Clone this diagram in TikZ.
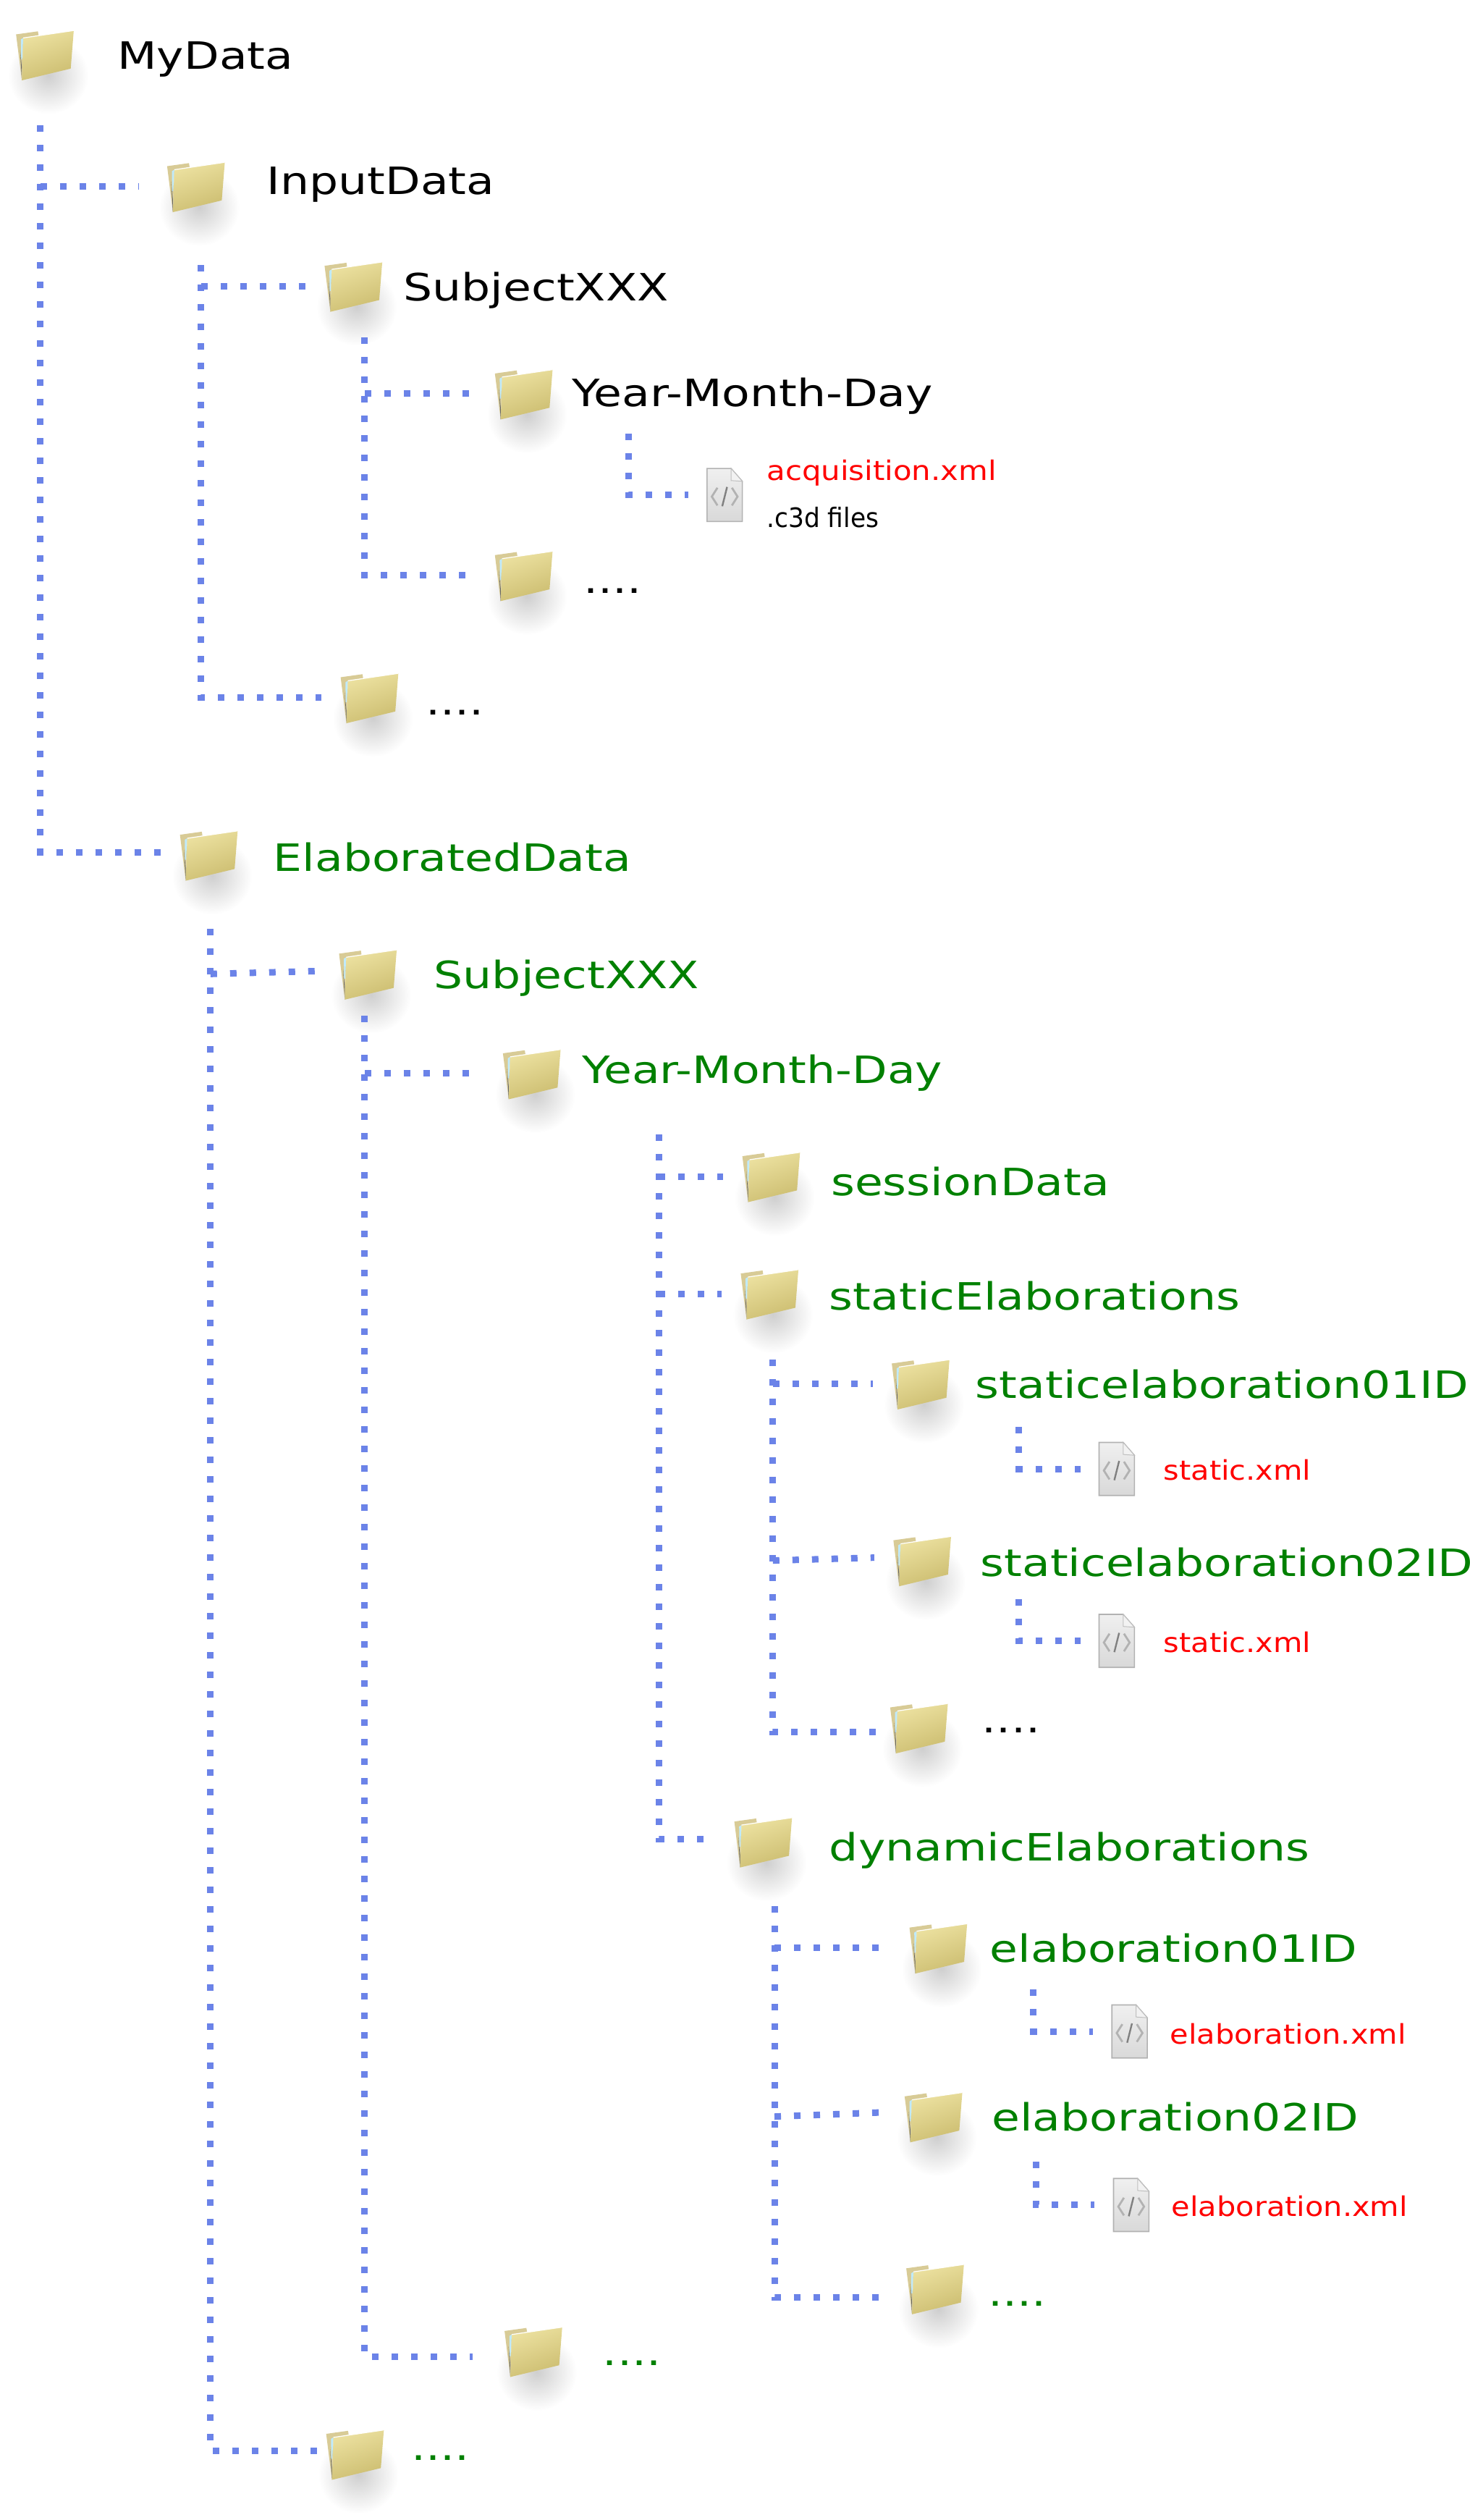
\documentclass[tikz,border=0pt]{standalone}
\usepackage{fontspec}
\usepackage{xcolor}
\usepackage{tikz}
\usetikzlibrary{positioning,shapes,calc}
\setmainfont[FakeStretch=1.215]{DejaVu Sans}
\newfontfamily\narrowfont[FakeStretch=0.93]{DejaVu Sans}
\newfontfamily\acqfont[FakeStretch=1.125]{DejaVu Sans}
\newfontfamily\xmlfont[FakeStretch=1.11]{DejaVu Sans}
\definecolor{linkblue}{RGB}{107,131,232}
\definecolor{foldback}{RGB}{216,203,150}
\definecolor{foldlight}{RGB}{236,225,160}
\definecolor{folddark}{RGB}{204,189,112}
\definecolor{darkgreen}{RGB}{0,128,0}

\tikzset{
  folder/.pic={
    \shade[inner color=black!19, outer color=white] (2,13) ellipse (25 and 24);
    \fill[foldback] (-18,-12.6) -- (-4.4,-14.5) -- (-4,-12) -- (-13.5,-10.4) -- (-14.4,16) -- cycle;
    \fill[black!60] (-15.5,-3) -- (-14.4,16) -- (-14.4,8) -- cycle;
    \fill[cyan!25] (-15,-9.5) -- (-13.5,-10.4) -- (-14.2,3) -- (-14.8,3) -- cycle;
    \shade[top color=foldlight, bottom color=folddark, shading angle=20]
      (-13.5,-10.4) -- (17.9,-15) -- (16,8.7) -- (-14.4,16) -- cycle;
    \draw[white, line width=0.6pt] (-13.5,-10.4) -- (17.9,-15);
  },
  xmlfile/.pic={
    \shade[top color=black!6, bottom color=black!15, draw=black!30, line width=0.8pt]
      (-11,-16.5) -- (4,-16.5) -- (11,-8.5) -- (11,16.5) -- (-11,16.5) -- cycle;
    \fill[black!5, draw=black!25, line width=0.5pt] (4,-16.5) -- (4,-9) -- (11,-8.5) -- cycle;
    \draw[black!30, line width=1.4pt] (-4.5,-4.5) -- (-8,1) -- (-4.5,6.5);
    \draw[black!30, line width=1.4pt] (4.5,-4.5) -- (8,1) -- (4.5,6.5);
    \draw[black!50, line width=1.2pt] (1.5,-5) -- (-1.5,7);
  }
}

\begin{document}
\begin{tikzpicture}[
  x=1.11pt, y=-1.11pt,
  foldernode/.style={inner sep=0pt, minimum width=66pt, minimum height=50pt},
  filenode/.style={inner sep=0pt, minimum width=50pt, minimum height=40pt},
  bigtext/.style={anchor=base west, inner sep=0pt, font=\fontsize{26}{30}\selectfont},
  inputtext/.style={bigtext, text=black},
  elabtext/.style={bigtext, text=darkgreen},
  xmltext/.style={anchor=base west, inner sep=0pt, text=red, font=\xmlfont\fontsize{18.7}{20}\selectfont},
  link/.style={draw=linkblue, line width=4.5pt, dash pattern=on 4.5pt off 9pt}
]

\useasboundingbox (0,0) rectangle (914.86,1568.02);

% Input tree
\node[foldernode] (mydata) at (28,34) {};
\node[foldernode, minimum width=78pt] (input) at (122,116) {};
\node[foldernode] (subject) at (220,178) {};
\node[foldernode] (date) at (326,245) {};
\node[foldernode] (datedots) at (326,358) {};
\node[foldernode] (subjectdots) at (230,434) {};
\node[filenode] (acq) at (451,308) {};

% Elaborated tree
\node[foldernode] (elab) at (130,532) {};
\node[foldernode] (elabsubject) at (229,606) {};
\node[foldernode, minimum width=76pt] (elabdate) at (331,668) {};
\node[foldernode] (session) at (480,732) {};
\node[foldernode] (static) at (479,805) {};
\node[foldernode] (staticone) at (573,861) {};
\node[foldernode] (statictwo) at (574,971) {};
\node[foldernode, minimum width=50pt] (staticdots) at (572,1075) {};
\node[foldernode] (dynamic) at (475,1146) {};
\node[foldernode] (dynone) at (584,1212) {};
\node[foldernode] (dyntwo) at (581,1317) {};
\node[foldernode, minimum width=76pt] (dyndots) at (582,1424) {};
\node[foldernode, minimum width=84pt] (elabdatedots) at (332,1463) {};
\node[foldernode, minimum width=50pt] (elabsubjectdots) at (221,1527) {};
\node[filenode] (staticonefile) at (695,914) {};
\node[filenode] (statictwofile) at (695,1021) {};
\node[filenode] (dynonefile) at (703,1264) {};
\node[filenode] (dyntwofile) at (704,1372) {};

% Icons
\foreach \n in {mydata,input,subject,date,datedots,subjectdots,elab,elabsubject,elabdate,session,static,staticone,statictwo,staticdots,dynamic,dynone,dyntwo,dyndots,elabdatedots,elabsubjectdots}
  \pic at (\n) {folder};
\foreach \n in {acq,staticonefile,statictwofile,dynonefile,dyntwofile}
  \pic at (\n) {xmlfile};

% Labels
\node[inputtext] (mydatatxt) at (73,43) {MyData};
\node[inputtext] (inputtxt) at (166,121) {InputData};
\node[inputtext] (subjecttxt) at (251,187) {SubjectXXX};
\node[inputtext] (datetxt) at (356,253) {Year-Month-Day};
\node[inputtext] (datedotstxt) at (363,369) {....};
\node[inputtext] (subjectdotstxt) at (265,445) {....};
\node[xmltext, font=\acqfont\fontsize{18.6}{20}\selectfont] (acqtxt) at (477,299) {acquisition.xml};
\node[anchor=base west, inner sep=0pt, font=\narrowfont\fontsize{18.5}{20}\selectfont] (c3dtxt) at (477,328) {.c3d files};

\node[elabtext] (elabtxt) at (170,542) {ElaboratedData};
\node[elabtext] (elabsubjecttxt) at (270,615) {SubjectXXX};
\node[elabtext] (elabdatetxt) at (362,674) {Year-Month-Day};
\node[elabtext] (sessiontxt) at (517,744) {sessionData};
\node[elabtext] (statictxt) at (516,815) {staticElaborations};
\node[elabtext] (staticonetxt) at (607,870) {staticelaboration01ID};
\node[elabtext] (statictwotxt) at (610,981) {staticelaboration02ID};
\node[inputtext] (staticdotstxt) at (611,1078) {....};
\node[elabtext] (dynamictxt) at (516,1158) {dynamicElaborations};
\node[elabtext] (dynonetxt) at (616,1221) {elaboration01ID};
\node[elabtext] (dyntwotxt) at (617,1326) {elaboration02ID};
\node[elabtext] (dyndotstxt) at (615,1435) {....};
\node[elabtext] (elabdatedotstxt) at (375,1472) {....};
\node[elabtext] (elabsubjectdotstxt) at (256,1531) {....};
\node[xmltext] (staticonexml) at (724,921) {static.xml};
\node[xmltext] (statictwoxml) at (724,1028) {static.xml};
\node[xmltext] (dynonexml) at (728,1272) {elaboration.xml};
\node[xmltext] (dyntwoxml) at (729,1379) {elaboration.xml};

% Line starts
\coordinate (mydatabar) at (25,78);
\coordinate (inputbar) at (125,165);
\coordinate (subjectbar) at (227,210);
\coordinate (datebar) at (391,270);
\coordinate (elabbar) at (131,578);
\coordinate (elabsubjectbar) at (227,632);
\coordinate (elabdatebar) at (410,706);
\coordinate (staticbar) at (481,846);
\coordinate (staticonebar) at (634,888);
\coordinate (statictwobar) at (634,995);
\coordinate (dynamicbar) at (482,1186);
\coordinate (dynonebar) at (643,1238);
\coordinate (dyntwobar) at (645,1345);

% Connectors
\draw[link] (mydatabar) |- ([yshift=2pt]elab.west);
\draw[link] (mydatabar |- input) -- (input.west);
\draw[link] (inputbar) |- (subjectdots.west);
\draw[link] (inputbar |- subject) -- (subject.west);
\draw[link] (subjectbar) |- (datedots.west);
\draw[link] (subjectbar |- date) -- (date.west);
\draw[link] (datebar) |- (acq.west);
\draw[link] (elabbar) |- ([yshift=2pt]elabsubjectdots.west);
\draw[link] (elabbar |- elabsubject) -- ([yshift=2pt]elabsubject.west);
\draw[link] (elabsubjectbar) |- ([yshift=-4pt]elabdatedots.west);
\draw[link] (elabsubjectbar |- elabdate) -- (elabdate.west);
\draw[link] (elabdatebar) |- ([yshift=2pt]dynamic.west);
\draw[link] (elabdatebar |- session) -- (session.west);
\draw[link] (elabdatebar |- static) -- (static.west);
\draw[link] (staticbar) |- ([yshift=-3pt]staticdots.west);
\draw[link] (staticbar |- staticone) -- (staticone.west);
\draw[link] (staticbar |- statictwo) -- ([yshift=2pt]statictwo.west);
\draw[link] (staticonebar) |- (staticonefile.west);
\draw[link] (statictwobar) |- (statictwofile.west);
\draw[link] (dynamicbar) |- ([yshift=-6pt]dyndots.west);
\draw[link] (dynamicbar |- dynone) -- (dynone.west);
\draw[link] (dynamicbar |- dyntwo) -- ([yshift=3pt]dyntwo.west);
\draw[link] (dynonebar) |- (dynonefile.west);
\draw[link] (dyntwobar) |- (dyntwofile.west);

\end{tikzpicture}
\end{document}
